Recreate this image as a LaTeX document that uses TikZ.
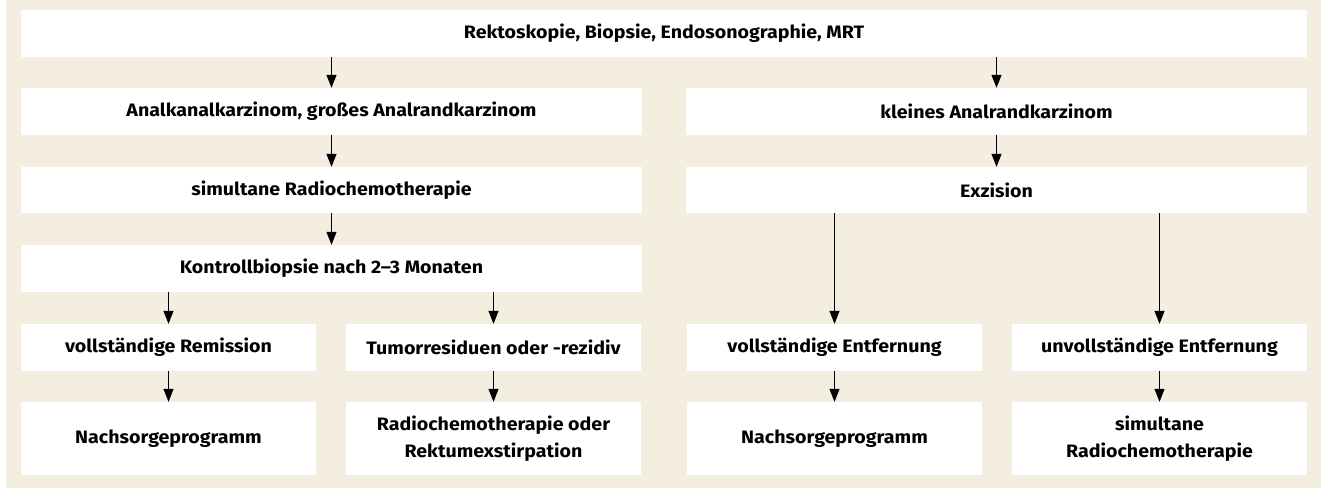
\documentclass[tikz,border=0pt]{standalone}
\usepackage{fontspec}
\setmainfont{Fira Sans}[FakeStretch=1.09]
\usetikzlibrary{arrows.meta}
\definecolor{bg}{RGB}{244,238,224}
\begin{document}
\begin{tikzpicture}[x=1pt,y=-1pt,
  box/.style={fill=white,draw=none,inner sep=0pt,align=center,font=\fontsize{18}{27}\selectfont\bfseries},
  arr/.style={draw=black,line width=1.1pt,-{Triangle[width=10pt,length=13pt]}}]
\useasboundingbox (0,0) rectangle (1321,488);
\fill[white] (0,0) rectangle (1321,488);
\fill[bg] (6,0) rectangle (1321,488);
\node[box,minimum width=1286pt,minimum height=47pt] (top) at (664,33.5) {Rektoskopie, Biopsie, Endosonographie, MRT};
\node[box,minimum width=621pt,minimum height=47pt] (l2) at (331.5,111.5) {Analkanalkarzinom, großes Analrandkarzinom};
\node[box,minimum width=621pt,minimum height=47pt] (r2) at (996.5,111.5) {kleines Analrandkarzinom};
\node[box,minimum width=621pt,minimum height=46pt] (l3) at (331.5,190) {simultane Radiochemotherapie};
\node[box,minimum width=621pt,minimum height=46pt] (r3) at (996.5,190) {Exzision};
\node[box,minimum width=621pt,minimum height=47pt] (l4) at (331.5,268.5) {Kontrollbiopsie nach 2–3 Monaten};
\node[box,minimum width=295pt,minimum height=47pt] (a5) at (168.5,347.5) {vollständige Remission};
\node[box,minimum width=295pt,minimum height=47pt] (b5) at (493.5,347.5) {Tumorresiduen oder -rezidiv};
\node[box,minimum width=295pt,minimum height=47pt] (c5) at (834.5,347.5) {vollständige Entfernung};
\node[box,minimum width=295pt,minimum height=47pt] (d5) at (1159.5,347.5) {unvollständige Entfernung};
\node[box,minimum width=295pt,minimum height=73pt] (a6) at (168.5,438.5) {Nachsorgeprogramm};
\node[box,minimum width=295pt,minimum height=73pt] (b6) at (493.5,438.5) {Radiochemotherapie oder\\Rektumexstirpation};
\node[box,minimum width=295pt,minimum height=73pt] (c6) at (834.5,438.5) {Nachsorgeprogramm};
\node[box,minimum width=295pt,minimum height=73pt] (d6) at (1159.5,438.5) {simultane\\Radiochemotherapie};
\draw[arr] (top.south -| l2.north) -- (l2.north);
\draw[arr] (top.south -| r2.north) -- (r2.north);
\draw[arr] (l2) -- (l3);
\draw[arr] (r2) -- (r3);
\draw[arr] (l3) -- (l4);
\draw[arr] (l4.south -| a5.north) -- (a5.north);
\draw[arr] (l4.south -| b5.north) -- (b5.north);
\draw[arr] (r3.south -| c5.north) -- (c5.north);
\draw[arr] (r3.south -| d5.north) -- (d5.north);
\draw[arr] (a5) -- (a6);
\draw[arr] (b5) -- (b6);
\draw[arr] (c5) -- (c6);
\draw[arr] (d5) -- (d6);
\end{tikzpicture}
\end{document}
